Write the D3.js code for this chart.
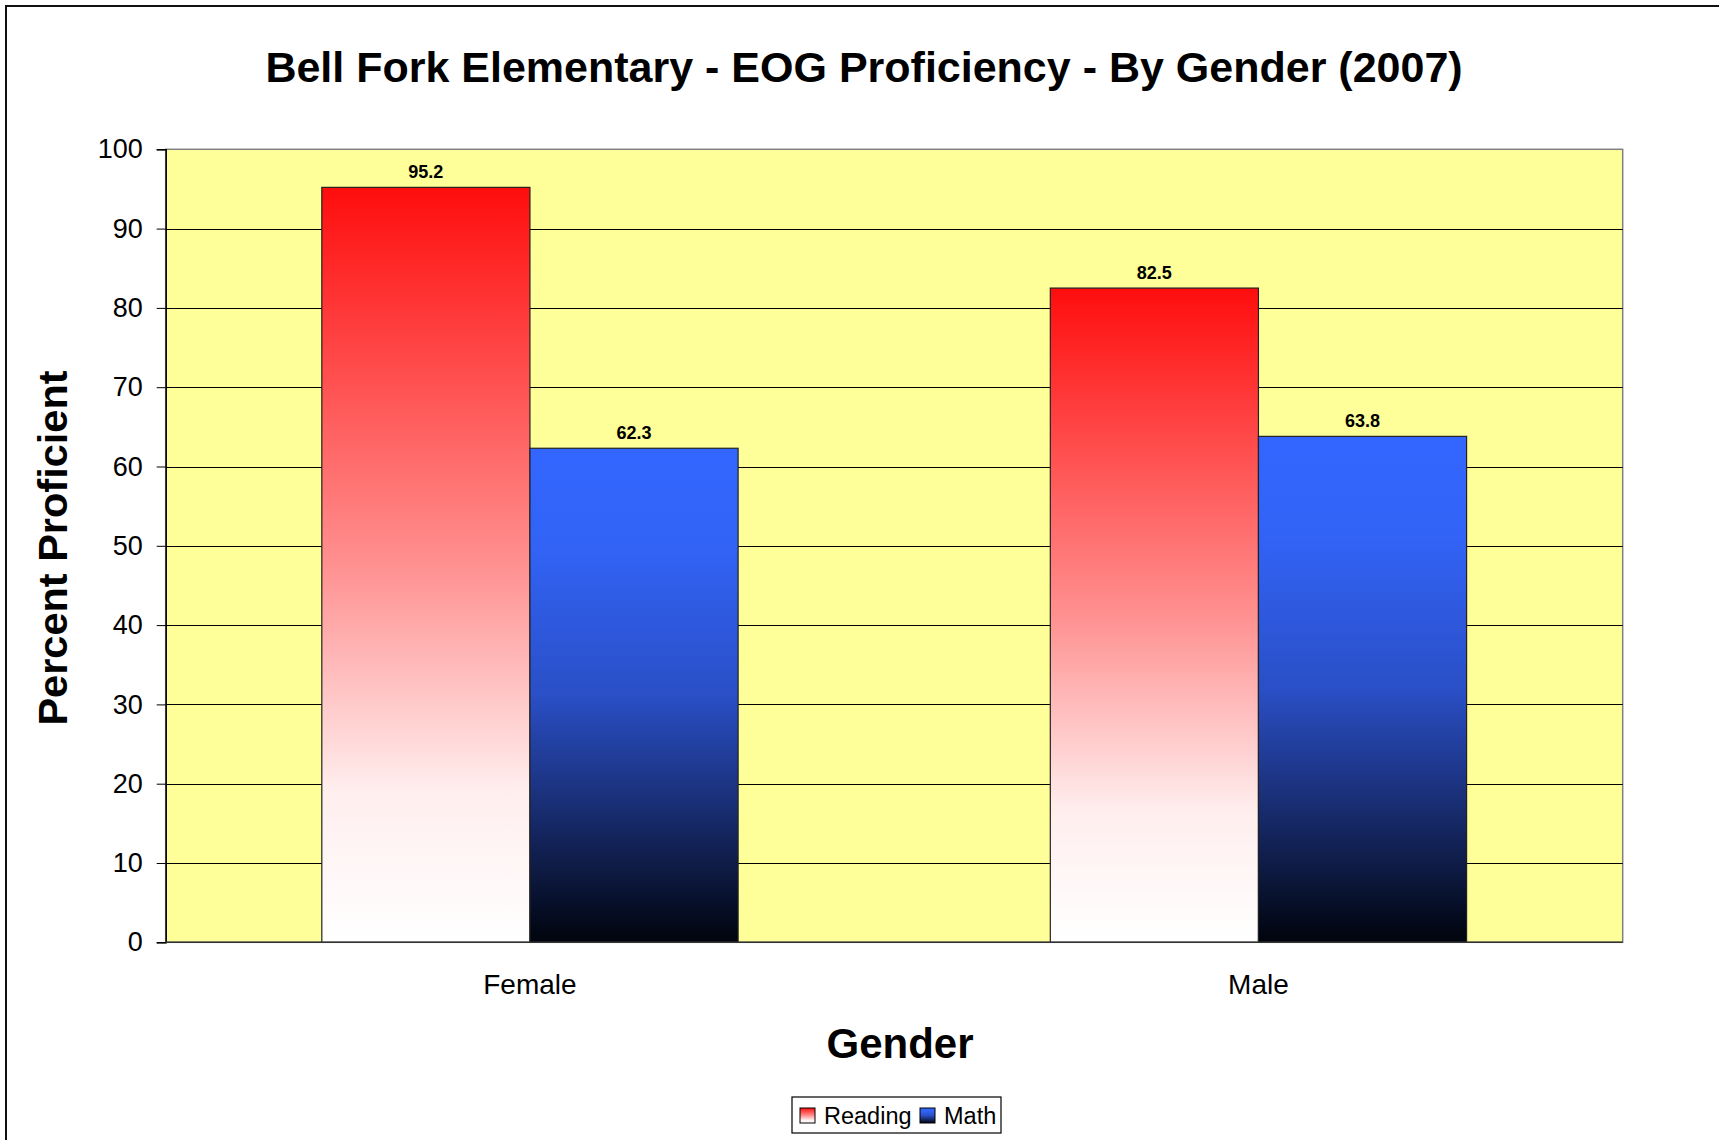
<!DOCTYPE html>
<html>
<head>
<meta charset="utf-8">
<script src="https://cdn.jsdelivr.net/npm/d3@7"></script>
<style>
  body { margin: 0; background: #fff; }
  text { font-family: "Liberation Sans", Arial, sans-serif; fill: #000; }
</style>
</head>
<body>
<svg id="chart"></svg>
<script>
const categories = ["Female", "Male"];
const series = ["Reading", "Math"];
const reading = [95.2, 82.5];
const math = [62.3, 63.8];
const yTicks = [0, 10, 20, 30, 40, 50, 60, 70, 80, 90, 100];

const chartSize = { width: 1719, height: 1140 };
const plot = { left: 165.7, right: 1622.7, top: 149.3, bottom: 942.3 };

const svg = d3.select("#chart")
  .attr("width", chartSize.width)
  .attr("height", chartSize.height);

const defs = svg.append("defs");

const gradient = (id, stops) => {
  const g = defs.append("linearGradient")
    .attr("id", id)
    .attr("x1", 0).attr("y1", 0)
    .attr("x2", 0).attr("y2", 1);
  stops.forEach(([o, c]) => g.append("stop").attr("offset", o).attr("stop-color", c));
};

gradient("redFade", [[0, "#ff0d0d"], [0.5, "#ff9090"], [0.8, "#ffeeee"], [1, "#ffffff"]]);
gradient("blueFade", [[0, "#3366ff"], [0.2, "#3263f6"], [0.5, "#2a4fc6"], [0.75, "#172a6a"], [1, "#00040c"]]);

const fills = { Reading: "url(#redFade)", Math: "url(#blueFade)" };

// outer chart frame
svg.append("rect")
  .attr("x", 6).attr("y", 6)
  .attr("width", chartSize.width + 20)
  .attr("height", chartSize.height + 20)
  .attr("fill", "#fff")
  .attr("stroke", "#111")
  .attr("stroke-width", 2);

const y = d3.scaleLinear().domain([0, 100]).range([plot.bottom, plot.top]);

const x0 = d3.scaleBand()
  .domain(categories)
  .range([plot.left, plot.right])
  .padding(0);

const x1 = d3.scaleBand()
  .domain(series)
  .range([0, x0.bandwidth()])
  .paddingInner(0)
  .paddingOuter(0.75);

// plot background
svg.append("rect")
  .attr("x", plot.left).attr("y", plot.top)
  .attr("width", plot.right - plot.left)
  .attr("height", plot.bottom - plot.top)
  .attr("fill", "#ffff99")
  .attr("stroke", "#808080")
  .attr("stroke-width", 1.5);

// gridlines
svg.append("g")
  .selectAll("line")
  .data(yTicks.filter(t => t > 0 && t < 100))
  .join("line")
  .attr("x1", plot.left).attr("x2", plot.right)
  .attr("y1", d => Math.round(y(d)) + 0.5)
  .attr("y2", d => Math.round(y(d)) + 0.5)
  .attr("stroke", "#000")
  .attr("stroke-width", 1);

// y axis
const yAxis = svg.append("g")
  .attr("transform", `translate(${plot.left},0)`)
  .call(d3.axisLeft(y).tickValues(yTicks).tickSize(9).tickPadding(14));
yAxis.select(".domain").attr("stroke", "#000").attr("stroke-width", 1.5);
yAxis.selectAll(".tick line").attr("stroke", "#000");
yAxis.selectAll(".tick text")
  .attr("font-size", 27)
  .attr("font-family", '"Liberation Sans", Arial, sans-serif')
  .attr("fill", "#000");

// bars
const rows = categories.map((c, i) => ({ category: c, Reading: reading[i], Math: math[i] }));

const groups = svg.append("g")
  .selectAll("g")
  .data(rows)
  .join("g")
  .attr("transform", d => `translate(${x0(d.category)},0)`);

const bars = groups.selectAll("g")
  .data(d => series.map(s => ({ key: s, value: d[s] })))
  .join("g");

bars.append("rect")
  .attr("x", d => x1(d.key))
  .attr("y", d => y(d.value))
  .attr("width", x1.bandwidth())
  .attr("height", d => y(0) - y(d.value))
  .attr("fill", d => fills[d.key])
  .attr("stroke", "#222")
  .attr("stroke-width", 1.2);

bars.append("text")
  .attr("x", d => x1(d.key) + x1.bandwidth() / 2)
  .attr("y", d => y(d.value) - 9)
  .attr("text-anchor", "middle")
  .attr("font-size", 18)
  .attr("font-weight", "bold")
  .text(d => d.value.toFixed(1));

// x axis line
svg.append("line")
  .attr("x1", plot.left).attr("x2", plot.right)
  .attr("y1", plot.bottom).attr("y2", plot.bottom)
  .attr("stroke", "#333")
  .attr("stroke-width", 1.5);

svg.append("g")
  .selectAll("text")
  .data(categories)
  .join("text")
  .attr("x", d => x0(d) + x0.bandwidth() / 2)
  .attr("y", 994)
  .attr("text-anchor", "middle")
  .attr("font-size", 28)
  .text(d => d);

// titles
svg.append("text")
  .attr("x", 864)
  .attr("y", 81.5)
  .attr("text-anchor", "middle")
  .attr("font-size", 43)
  .attr("font-weight", "bold")
  .text("Bell Fork Elementary - EOG Proficiency - By Gender (2007)");

svg.append("text")
  .attr("x", 900)
  .attr("y", 1058)
  .attr("text-anchor", "middle")
  .attr("font-size", 42)
  .attr("font-weight", "bold")
  .text("Gender");

svg.append("text")
  .attr("transform", "translate(67,548) rotate(-90)")
  .attr("text-anchor", "middle")
  .attr("font-size", 41.5)
  .attr("font-weight", "bold")
  .text("Percent Proficient");

// legend
const legend = svg.append("g").attr("transform", "translate(792,1097)");
legend.append("rect")
  .attr("width", 209).attr("height", 36)
  .attr("fill", "#fff")
  .attr("stroke", "#000")
  .attr("stroke-width", 1.2);

const legendX = { Reading: 8, Math: 128 };
const items = legend.selectAll("g.item")
  .data(series)
  .join("g")
  .attr("class", "item")
  .attr("transform", d => `translate(${legendX[d]},11)`);

items.append("rect")
  .attr("width", 15).attr("height", 15)
  .attr("fill", d => fills[d])
  .attr("stroke", "#000")
  .attr("stroke-width", 1);

items.append("text")
  .attr("x", 24)
  .attr("y", 16)
  .attr("font-size", 23.5)
  .text(d => d);
</script>
</body>
</html>
